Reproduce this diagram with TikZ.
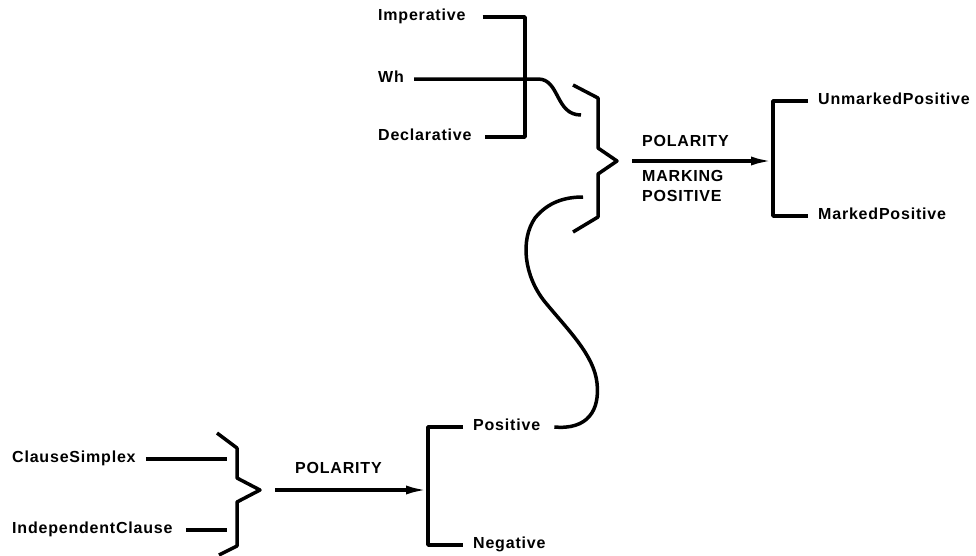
\documentclass[tikz,border=0pt]{standalone}
\usepackage{fontspec}
\newfontfamily\lblfont[LetterSpace=5]{Liberation Sans}
\usetikzlibrary{arrows.meta}

\begin{document}
\begin{tikzpicture}[
  x=1pt, y=-1pt,
  >={Latex[length=22pt,width=9pt]},
  every node/.style={inner sep=0pt},
  term/.style={anchor=west, font=\lblfont\bfseries\fontsize{16}{19}\selectfont, text height=1.4ex, text depth=0pt},
  wire/.style={line width=3.5pt, line join=round},
  feat/.style={wire, ->}
]
\useasboundingbox (0,0) rectangle (976,555);

% systems (terms)
\node[term] (imper)    at (378,17)  {Imperative};
\node[term] (wh)       at (378,79)  {Wh};
\node[term] (decl)     at (378,137) {Declarative};
\node[term] (unmarked) at (818,101) {UnmarkedPositive};
\node[term] (marked)   at (818,216) {MarkedPositive};
\node[term] (simplex)  at (12,459)  {ClauseSimplex};
\node[term] (indep)    at (12,530)  {IndependentClause};
\node[term] (pos)      at (473,427) {Positive};
\node[term] (neg)      at (473,545) {Negative};

% system names
\node[term] (pol)   at (295,470) {POLARITY};
\node[term] (mpol)  at (642,143) {POLARITY};
\node[term] (mark)  at (642,178) {MARKING};
\node[term] (mposl) at (642,198) {POSITIVE};

% bracket bars, brace tips, loose ends
\coordinate (gate1)  at (525,79);
\coordinate (gate2)  at (428,490);
\coordinate (gate3)  at (773,161);
\coordinate (cb1)    at (227,490);
\coordinate (tip1)   at (260,490);
\coordinate (tip2)   at (617,161);
\coordinate (whend)  at (581,115);
\coordinate (posend) at (583,197);

% mood bracket, Wh line bends into the brace
\draw[wire] ([xshift=17pt]imper.east) -- (imper.east -| gate1) -- (decl.east -| gate1) -- ([xshift=13pt]decl.east);
\draw[wire] ([xshift=10pt]wh.east) -- (wh.east -| gate1) -- ++(13,0) .. controls +(22,0) and +(-26,0) .. (whend);

% upper brace and POLARITY MARKING POSITIVE system
\draw[wire] (573,85) -- (598,98) -- (598,148) -- (tip2) -- (598,174) -- (598,217) -- (573,232);
\draw[feat] ([xshift=15pt]tip2) -- (gate3);
\draw[wire] ([xshift=-10pt]unmarked.west) -- (unmarked.west -| gate3) -- (marked.west -| gate3) -- ([xshift=-10pt]marked.west);

% lower brace and POLARITY system
\draw[wire] ([xshift=10pt]simplex.east) -- (simplex.east -| cb1);
\draw[wire] ([xshift=13pt]indep.east) -- (indep.east -| cb1);
\draw[wire] (217,433) -- (237,448) -- (237,478) -- (tip1) -- (237,502) -- (237,546) -- (219,555);
\draw[feat] ([xshift=15pt]tip1) -- (gate2);
\draw[wire] ([xshift=-10pt]pos.west) -- (pos.west -| gate2) -- (neg.west -| gate2) -- ([xshift=-10pt]neg.west);

% Positive feeds the upper brace
\draw[wire] ([xshift=14pt]pos.east) .. controls (588,430) and (600,410) .. (597,383)
  .. controls (594,355) and (568,330) .. (545,302)
  .. controls (524,276) and (520,240) .. (535,218)
  .. controls (548,202) and (565,197) .. (posend);

\end{tikzpicture}
\end{document}
